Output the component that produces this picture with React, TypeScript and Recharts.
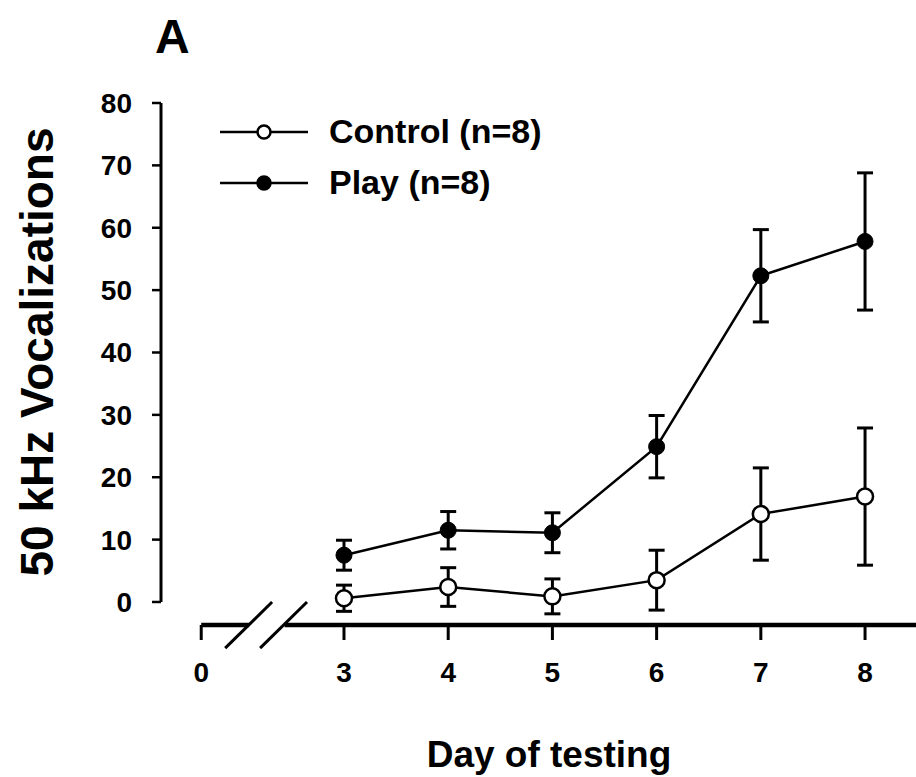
import { LineChart, Line, XAxis, YAxis, ErrorBar, ReferenceLine, Legend, Label } from 'recharts'

// values (mean ± SEM)
const days = [3, 4, 5, 6, 7, 8]
const controlMean = [0.6, 2.4, 0.9, 3.5, 14.1, 16.9]
const controlSem = [2.1, 3.1, 2.8, 4.8, 7.4, 11.0]
const playMean = [7.5, 11.5, 11.1, 24.9, 52.3, 57.8]
const playSem = [2.4, 3.0, 3.2, 5.0, 7.4, 11.0]
const yTicks = [0, 10, 20, 30, 40, 50, 60, 70, 80]

const data = days.map((day, i) => ({
  day,
  control: controlMean[i],
  controlErr: controlSem[i],
  play: playMean[i],
  playErr: playSem[i],
}))

// broken x axis: day 0 is drawn just left of the break
const ZERO_POS = 1.63
const X_MIN = 1.244
const X_MAX = 8.489
const Y_MIN = -3.69
const BREAK_L = 2.09
const BREAK_R = 2.43
const xTicks = [ZERO_POS, ...days]

const FONT = '"Liberation Sans", Arial, Helvetica, sans-serif'
const markerFill: Record<string, string> = { control: '#fff', play: '#000' }

function LegendContent({ payload }: any) {
  return (
    <div style={{ fontFamily: FONT, fontWeight: 700, fontSize: 34, color: '#000' }}>
      {(payload || []).map((entry: any) => (
        <div key={entry.value} style={{ display: 'flex', alignItems: 'center', height: 51 }}>
          <svg width={88} height={20} style={{ marginRight: 21 }}>
            <line x1={0} y1={10} x2={88} y2={10} stroke="#000" strokeWidth={2.5} />
            <circle cx={44} cy={10} r={6.5} fill={markerFill[entry.dataKey]} stroke="#000" strokeWidth={2.5} />
          </svg>
          <span>{entry.value}</span>
        </div>
      ))}
    </div>
  )
}

export default function App() {
  return (
    <div style={{ position: 'absolute', left: 0, top: 0, width: 916, height: 777, background: '#fff' }}>
      <LineChart
        width={916}
        height={777}
        data={data}
        margin={{ top: 103, right: 0, bottom: 92, left: 61 }}
      >
        <XAxis
          dataKey="day"
          type="number"
          domain={[X_MIN, X_MAX]}
          ticks={xTicks}
          allowDataOverflow
          height={60}
          axisLine={false}
          tickLine={{ stroke: '#000', strokeWidth: 3 }}
          tickSize={15}
          tickMargin={22}
          tickFormatter={(v: number) => (v === ZERO_POS ? '0' : String(v))}
          tick={{ fontSize: 28, fontWeight: 700, fill: '#000', fontFamily: FONT }}
        >
          <Label
            content={({ viewBox }: any) => (
              <text
                x={viewBox.x + 388}
                y={viewBox.y + 142}
                textAnchor="middle"
                fontFamily={FONT}
                fontWeight={700}
                fontSize={37}
                fill="#000"
              >
                Day of testing
              </text>
            )}
          />
        </XAxis>
        <YAxis
          type="number"
          domain={[Y_MIN, 80]}
          ticks={yTicks}
          allowDataOverflow
          width={100}
          axisLine={false}
          tickLine={{ stroke: '#000', strokeWidth: 2.5 }}
          tickSize={9}
          tickMargin={20}
          tick={{ fontSize: 28, fontWeight: 700, fill: '#000', fontFamily: FONT }}
        >
          <Label
            content={({ viewBox }: any) => {
              const x = viewBox.x - 8
              const y = viewBox.y + 249
              return (
                <text
                  x={x}
                  y={y}
                  transform={`rotate(-90, ${x}, ${y})`}
                  textAnchor="middle"
                  fontFamily={FONT}
                  fontWeight={700}
                  fontSize={46}
                  fill="#000"
                >
                  50 kHz Vocalizations
                </text>
              )
            }}
          />
        </YAxis>

        {/* y axis line stops at 0 */}
        <ReferenceLine
          segment={[{ x: X_MIN, y: 0 }, { x: X_MIN, y: 80 }]}
          stroke="#000"
          strokeWidth={3}
          ifOverflow="visible"
        />
        {/* x axis line with break */}
        <ReferenceLine
          segment={[{ x: ZERO_POS, y: Y_MIN }, { x: BREAK_L, y: Y_MIN }]}
          stroke="#000"
          strokeWidth={4.5}
          ifOverflow="visible"
        />
        <ReferenceLine
          segment={[{ x: BREAK_R, y: Y_MIN }, { x: X_MAX, y: Y_MIN }]}
          stroke="#000"
          strokeWidth={4.5}
          ifOverflow="visible"
        />
        <ReferenceLine
          segment={[{ x: 1.86, y: -7.4 }, { x: 2.31, y: 0 }]}
          stroke="#000"
          strokeWidth={3}
          ifOverflow="visible"
        />
        <ReferenceLine
          segment={[{ x: 2.195, y: -7.4 }, { x: 2.645, y: 0 }]}
          stroke="#000"
          strokeWidth={3}
          ifOverflow="visible"
        />

        <Legend
          layout="vertical"
          align="center"
          verticalAlign="middle"
          content={<LegendContent />}
          wrapperStyle={{ left: 220, top: 106, width: 'auto', height: 'auto' }}
        />

        <Line
          dataKey="control"
          name="Control (n=8)"
          stroke="#000"
          strokeWidth={2.5}
          dot={{ r: 8, fill: '#fff', stroke: '#000', strokeWidth: 2.5 }}
          activeDot={false}
          isAnimationActive={false}
        >
          <ErrorBar dataKey="controlErr" direction="y" width={8} stroke="#000" strokeWidth={3} />
        </Line>
        <Line
          dataKey="play"
          name="Play (n=8)"
          stroke="#000"
          strokeWidth={2.5}
          dot={{ r: 8, fill: '#000', stroke: '#000', strokeWidth: 1 }}
          activeDot={false}
          isAnimationActive={false}
        >
          <ErrorBar dataKey="playErr" direction="y" width={8} stroke="#000" strokeWidth={3} />
        </Line>
      </LineChart>
      <svg
        width={916}
        height={777}
        style={{ position: 'absolute', left: 0, top: 0, pointerEvents: 'none' }}
      >
        <text x={155} y={53} fontFamily={FONT} fontWeight={700} fontSize={48} fill="#000">
          A
        </text>
      </svg>
    </div>
  )
}
